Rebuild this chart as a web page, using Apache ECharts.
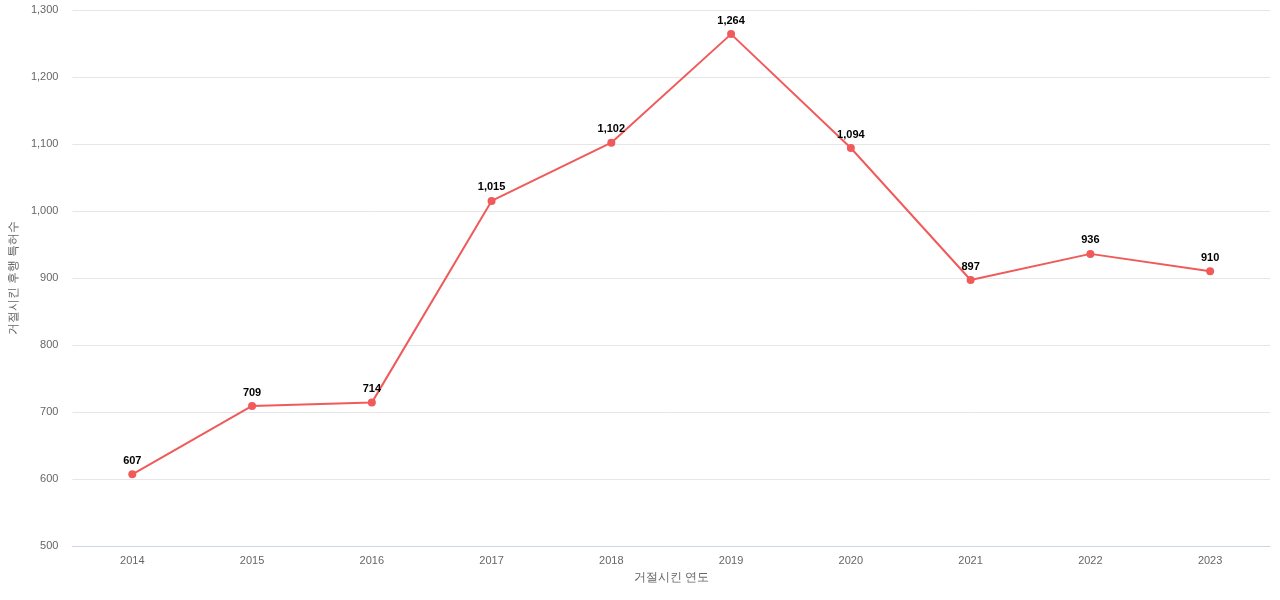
<!DOCTYPE html><html><head><meta charset="utf-8"><script src="https://cdn.jsdelivr.net/npm/echarts@6/dist/echarts.min.js"></script></head><body style="margin:0"><div id="c" style="width:1280px;height:600px"></div><script>
const years=['2014','2015','2016','2017','2018','2019','2020','2021','2022','2023'];
const counts=[607,709,714,1015,1102,1264,1094,897,936,910];
const ch=echarts.init(document.getElementById('c'));
ch.setOption({grid:{left:72,right:10,top:10,bottom:54},
xAxis:{type:'category',data:years,name:'거절시킨 연도',nameLocation:'middle',nameGap:26,nameTextStyle:{color:'#666',fontSize:12},axisTick:{show:false},axisLine:{lineStyle:{color:'#ccd6eb'}},axisLabel:{color:'#666',fontSize:11,margin:9}},
yAxis:{type:'value',min:500,max:1300,interval:100,name:'거절시킨 후행 특허수',nameLocation:'middle',nameGap:48,nameTextStyle:{color:'#666',fontSize:12},axisLabel:{color:'#666',fontSize:11,margin:14},splitLine:{lineStyle:{color:'#e6e6e6'}}},
series:[{type:'line',data:counts,color:'#f05a5a',symbol:'circle',symbolSize:8,lineStyle:{width:2},label:{show:true,position:'top',distance:4,color:'#000',fontWeight:'bold',fontSize:11,formatter:p=>p.value.toLocaleString('en-US')}}]});
</script></body></html>
